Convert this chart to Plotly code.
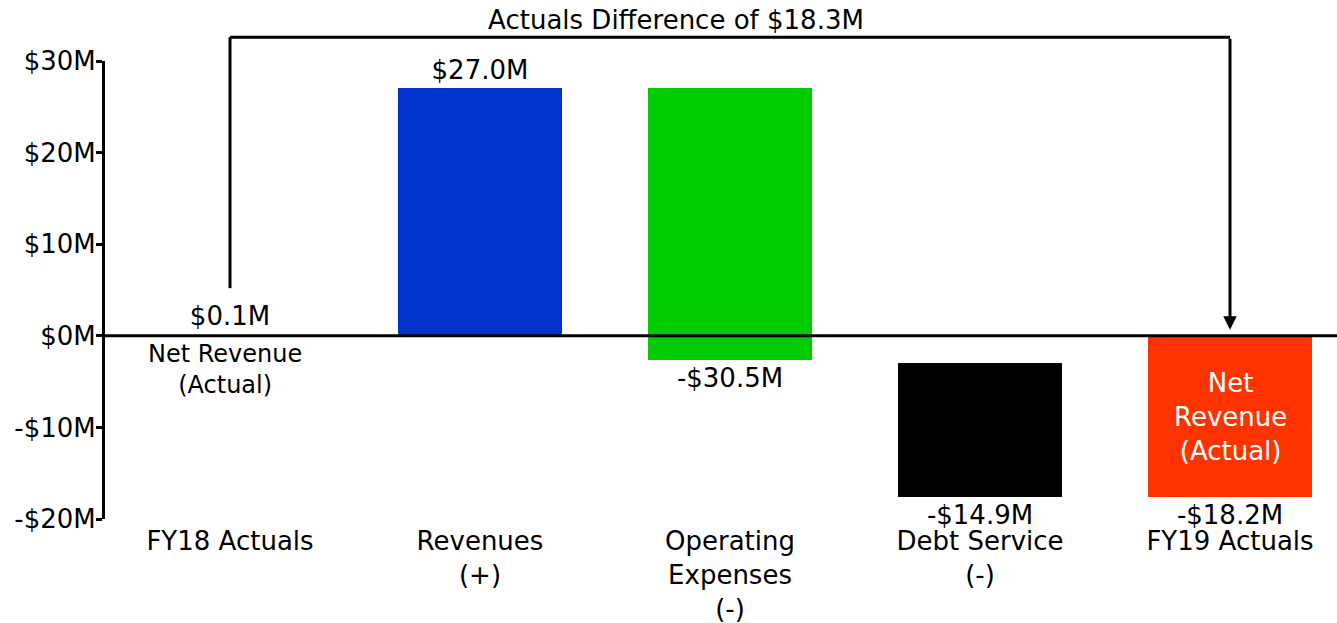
import plotly.graph_objects as go

# ---- data ----
categories = ["FY18 Actuals", "Revenues<br>(+)", "Operating<br>Expenses<br>(-)",
              "Debt Service<br>(-)", "FY19 Actuals"]
bar_base = [0.0, 0.1, 27.0, -3.0, 0.0]      # $M, start of each bar
bar_end = [0.1, 27.0, -2.6, -17.6, -17.6]    # $M, end of each bar
value_labels = ["$0.1M", "$27.0M", "-$30.5M", "-$14.9M", "-$18.2M"]
bar_colors = ["#FFFFFF", "#0033CC", "#00CC00", "#000000", "#FF3300"]
y_ticks = [-20, -10, 0, 10, 20, 30]
y_tick_labels = ["-$20M", "-$10M", "$0M", "$10M", "$20M", "$30M"]
title_text = "Actuals Difference of $18.3M"
bracket_start_value = 5.2     # $M where left bracket leg ends
arrow_tip_value = 0.65        # $M where arrow tip points
bracket_top_value = 32.6      # $M level of bracket top

FONT = "DejaVu Sans"
YMIN, YMAX = -20, 30


def ypaper(v):
    return (v - YMIN) / (YMAX - YMIN)


x = list(range(len(categories)))
heights = [e - b for b, e in zip(bar_base, bar_end)]

fig = go.Figure()
fig.add_trace(go.Bar(
    x=x, y=heights, base=bar_base,
    marker=dict(color=bar_colors, line=dict(width=0)),
    width=0.656,
    text=value_labels, textposition="outside",
    textfont=dict(family=FONT, size=26, color="black"),
    cliponaxis=False, showlegend=False, hoverinfo="skip",
))

shapes = [
    # zero line across the plot
    dict(type="line", xref="paper", yref="y", x0=0, x1=1, y0=0, y1=0,
         line=dict(color="black", width=3), layer="above"),
    # bracket: left leg
    dict(type="line", xref="x", yref="paper", x0=0, x1=0,
         y0=ypaper(bracket_start_value), y1=ypaper(bracket_top_value),
         line=dict(color="black", width=3)),
    # bracket: top
    dict(type="line", xref="x", yref="paper", x0=0, x1=4,
         y0=ypaper(bracket_top_value), y1=ypaper(bracket_top_value),
         line=dict(color="black", width=3)),
]

annotations = [
    dict(text="", x=4, y=ypaper(arrow_tip_value), xref="x", yref="paper",
         showarrow=True, ax=0, ay=-(ypaper(bracket_top_value) - ypaper(arrow_tip_value)) * 458,
         arrowhead=2, arrowsize=0.9, arrowwidth=3, arrowcolor="black"),
    dict(text="Net Revenue<br>(Actual)", x=0, y=0, xref="x", yref="y",
         xshift=-5, yshift=-2, yanchor="top", showarrow=False,
         font=dict(family=FONT, size=24, color="black")),
    dict(text="Net<br>Revenue<br>(Actual)", x=4, y=bar_end[4] / 2, xref="x", yref="y",
         yshift=-1, showarrow=False, font=dict(family=FONT, size=26, color="white")),
]

fig.update_layout(
    width=1337, height=623, autosize=False,
    margin=dict(l=105, r=0, t=61, b=104),
    paper_bgcolor="white", plot_bgcolor="white",
    font=dict(family=FONT, size=26, color="black"),
    title=dict(text=title_text, x=676 / 1337, xanchor="center", xref="container",
               y=1 - 20 / 623, yanchor="middle", yref="container",
               font=dict(family=FONT, size=26, color="black")),
    xaxis=dict(range=[-0.5, 4.428], tickvals=x, ticktext=categories,
               showline=False, showgrid=False, zeroline=False, ticks="",
               ticklabelstandoff=4,
               tickfont=dict(family=FONT, size=26, color="black"),
               fixedrange=True),
    yaxis=dict(range=[YMIN, YMAX], tickvals=y_ticks, ticktext=y_tick_labels,
               showline=True, linewidth=3, linecolor="black",
               ticks="outside", ticklen=6, tickwidth=3, tickcolor="black",
               ticklabelstandoff=-5,
               showgrid=False, zeroline=False,
               tickfont=dict(family=FONT, size=26, color="black")),
    shapes=shapes, annotations=annotations, bargap=0,
)

fig.write_html("out.html")
